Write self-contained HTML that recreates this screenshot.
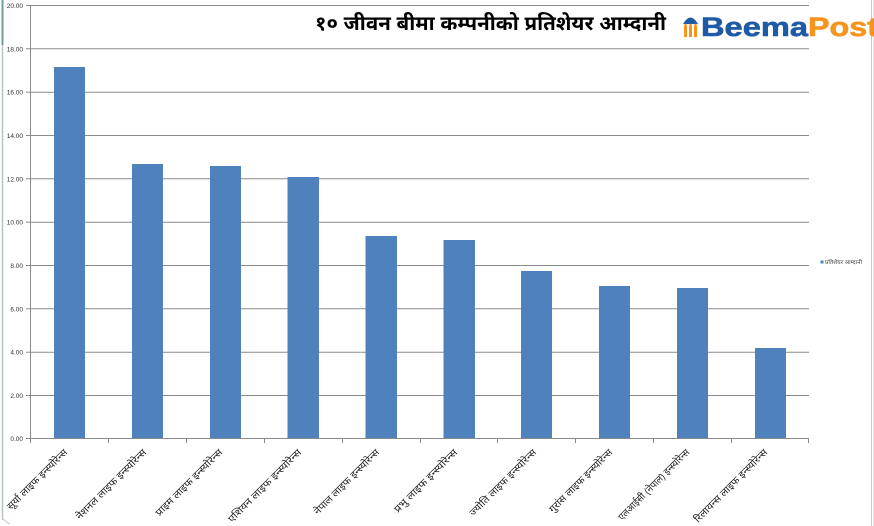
<!DOCTYPE html>
<html>
<head>
<meta charset="utf-8">
<style>
html,body{margin:0;padding:0;background:#fff;}
body{width:874px;height:526px;overflow:hidden;position:relative;}
svg{display:block;}
.dv{font-family:"Liberation Sans","Noto Sans Devanagari","Lohit Devanagari","FreeSans","Mangal",sans-serif;}
</style>
</head>
<body>
<svg width="874" height="526" viewBox="0 0 874 526" xmlns="http://www.w3.org/2000/svg">
  <rect width="874" height="526" fill="#fff"/>
  <!-- outer frame -->
  <line x1="2.5" y1="0" x2="2.5" y2="520" stroke="#b9c3c6" stroke-width="1.5"/>
  <line x1="2.5" y1="0" x2="2.5" y2="45" stroke="#6f9ea3" stroke-width="2"/>
  <path d="M2.5,518 Q5,522 10,524" fill="none" stroke="#c8c8c8" stroke-width="1"/>
  <line x1="871.5" y1="0" x2="871.5" y2="526" stroke="#c8c8c8" stroke-width="1"/>
  <line x1="873.5" y1="0" x2="873.5" y2="526" stroke="#e2e2e2" stroke-width="1"/>

  <!-- gridlines -->
  <g stroke="#8a8a8a" stroke-width="1">
    <line x1="30" y1="5.5" x2="809" y2="5.5"/>
    <line x1="30" y1="48.8" x2="809" y2="48.8"/>
    <line x1="30" y1="92.2" x2="809" y2="92.2"/>
    <line x1="30" y1="135.5" x2="809" y2="135.5"/>
    <line x1="30" y1="178.8" x2="809" y2="178.8"/>
    <line x1="30" y1="222.2" x2="809" y2="222.2"/>
    <line x1="30" y1="265.5" x2="809" y2="265.5"/>
    <line x1="30" y1="308.8" x2="809" y2="308.8"/>
    <line x1="30" y1="352.2" x2="809" y2="352.2"/>
    <line x1="30" y1="395.5" x2="809" y2="395.5"/>
  </g>
  <!-- y axis ticks -->
  <g stroke="#8a8a8a" stroke-width="1">
    <line x1="26" y1="5.5" x2="30" y2="5.5"/>
    <line x1="26" y1="48.8" x2="30" y2="48.8"/>
    <line x1="26" y1="92.2" x2="30" y2="92.2"/>
    <line x1="26" y1="135.5" x2="30" y2="135.5"/>
    <line x1="26" y1="178.8" x2="30" y2="178.8"/>
    <line x1="26" y1="222.2" x2="30" y2="222.2"/>
    <line x1="26" y1="265.5" x2="30" y2="265.5"/>
    <line x1="26" y1="308.8" x2="30" y2="308.8"/>
    <line x1="26" y1="352.2" x2="30" y2="352.2"/>
    <line x1="26" y1="395.5" x2="30" y2="395.5"/>
    <line x1="26" y1="438.5" x2="30" y2="438.5"/>
  </g>

  <!-- bars -->
  <g fill="#4f81bd">
    <rect x="54" y="67" width="31" height="371.5"/>
    <rect x="132" y="164" width="31" height="274.5"/>
    <rect x="210" y="166" width="31" height="272.5"/>
    <rect x="287.5" y="177" width="31.5" height="261.5"/>
    <rect x="365.5" y="236" width="31.5" height="202.5"/>
    <rect x="443.5" y="240" width="31.5" height="198.5"/>
    <rect x="521" y="271" width="31" height="167.5"/>
    <rect x="599" y="286" width="31" height="152.5"/>
    <rect x="677" y="288" width="31" height="150.5"/>
    <rect x="755" y="348" width="31" height="90.5"/>
  </g>

  <!-- axes -->
  <line x1="30.5" y1="5" x2="30.5" y2="439" stroke="#8a8a8a" stroke-width="1"/>
  <line x1="30" y1="438.5" x2="809" y2="438.5" stroke="#8a8a8a" stroke-width="1"/>
  <g stroke="#8a8a8a" stroke-width="1">
    <line x1="30.5" y1="438" x2="30.5" y2="443"/>
    <line x1="108.5" y1="438" x2="108.5" y2="443"/>
    <line x1="186.5" y1="438" x2="186.5" y2="443"/>
    <line x1="264.5" y1="438" x2="264.5" y2="443"/>
    <line x1="342.5" y1="438" x2="342.5" y2="443"/>
    <line x1="420.5" y1="438" x2="420.5" y2="443"/>
    <line x1="497.5" y1="438" x2="497.5" y2="443"/>
    <line x1="575.5" y1="438" x2="575.5" y2="443"/>
    <line x1="653.5" y1="438" x2="653.5" y2="443"/>
    <line x1="731.5" y1="438" x2="731.5" y2="443"/>
    <line x1="808.5" y1="438" x2="808.5" y2="443"/>
  </g>

  <!-- y labels -->
  <g font-family="Liberation Sans, sans-serif" font-size="6.5" fill="#333" text-anchor="end">
    <text x="23" y="8">20.00</text>
    <text x="23" y="51.3">18.00</text>
    <text x="23" y="94.7">16.00</text>
    <text x="23" y="138">14.00</text>
    <text x="23" y="181.3">12.00</text>
    <text x="23" y="224.7">10.00</text>
    <text x="23" y="268">8.00</text>
    <text x="23" y="311.3">6.00</text>
    <text x="23" y="354.7">4.00</text>
    <text x="23" y="398">2.00</text>
    <text x="23" y="441">0.00</text>
  </g>

  <!-- x labels -->
  <g class="dv" font-size="9.8" fill="#222" text-anchor="end">
    <text transform="translate(68,453) rotate(-45)" textLength="81" lengthAdjust="spacingAndGlyphs">सूर्या लाइफ इन्स्योरेन्स</text>
    <text transform="translate(147,453) rotate(-45)" textLength="95" lengthAdjust="spacingAndGlyphs">नेशनल लाइफ इन्स्योरेन्स</text>
    <text transform="translate(223,453) rotate(-45)" textLength="90" lengthAdjust="spacingAndGlyphs">प्राइम लाइफ  इन्स्योरेन्स</text>
    <text transform="translate(302,453) rotate(-45)" textLength="99" lengthAdjust="spacingAndGlyphs">एशियन लाइफ इन्स्योरेन्स</text>
    <text transform="translate(380,453) rotate(-45)" textLength="88" lengthAdjust="spacingAndGlyphs">नेपाल लाइफ इन्स्योरेन्स</text>
    <text transform="translate(458,453) rotate(-45)" textLength="85" lengthAdjust="spacingAndGlyphs">प्रभु लाइफ  इन्स्योरेन्स</text>
    <text transform="translate(537,453) rotate(-45)" textLength="90" lengthAdjust="spacingAndGlyphs">ज्योति लाइफ इन्स्योरेन्स</text>
    <text transform="translate(613,453) rotate(-45)" textLength="85" lengthAdjust="spacingAndGlyphs">गुरांस लाइफ इन्स्योरेन्स</text>
    <text transform="translate(690,453) rotate(-45)" textLength="96" lengthAdjust="spacingAndGlyphs">एलआईसी (नेपाल) इन्स्योरेन्स</text>
    <text transform="translate(768,453) rotate(-45)" textLength="99" lengthAdjust="spacingAndGlyphs">रिलायन्स लाइफ इन्स्योरेन्स</text>
  </g>

  <!-- legend -->
  <rect x="820.5" y="260.5" width="3" height="3" fill="#4f81bd"/>
  <text class="dv" x="825" y="264" font-size="5.5" fill="#444" textLength="37" lengthAdjust="spacingAndGlyphs">प्रतिशेयर आम्दानी</text>

  <!-- title -->
  <text class="dv" x="315" y="30" font-size="20" font-weight="bold" fill="#000" textLength="351" lengthAdjust="spacingAndGlyphs">१० जीवन बीमा कम्पनीको प्रतिशेयर आम्दानी</text>

  <!-- logo icon -->
  <g>
    <path d="M683,24 Q690.5,11 698,24 Z" fill="#1f5aa6"/>
    <rect x="684" y="26" width="3" height="11" fill="#f7941d"/>
    <rect x="689" y="26" width="3" height="11" fill="#f7941d"/>
    <rect x="694" y="26" width="3" height="11" fill="#f7941d"/>
    <circle cx="685.5" cy="25" r="1.3" fill="#f7941d"/>
    <circle cx="690.5" cy="25" r="1.3" fill="#f7941d"/>
    <circle cx="695.5" cy="25" r="1.3" fill="#f7941d"/>
  </g>
  <text x="701" y="36" font-family="Liberation Sans, sans-serif" font-size="27" font-weight="bold" fill="#1f5aa6" stroke="#1f5aa6" stroke-width="0.6" textLength="107" lengthAdjust="spacingAndGlyphs">Beema</text>
  <text x="808" y="36" font-family="Liberation Sans, sans-serif" font-size="27" font-weight="bold" fill="#f7941d" stroke="#f7941d" stroke-width="0.6" textLength="70" lengthAdjust="spacingAndGlyphs">Post</text>
</svg>
</body>
</html>
